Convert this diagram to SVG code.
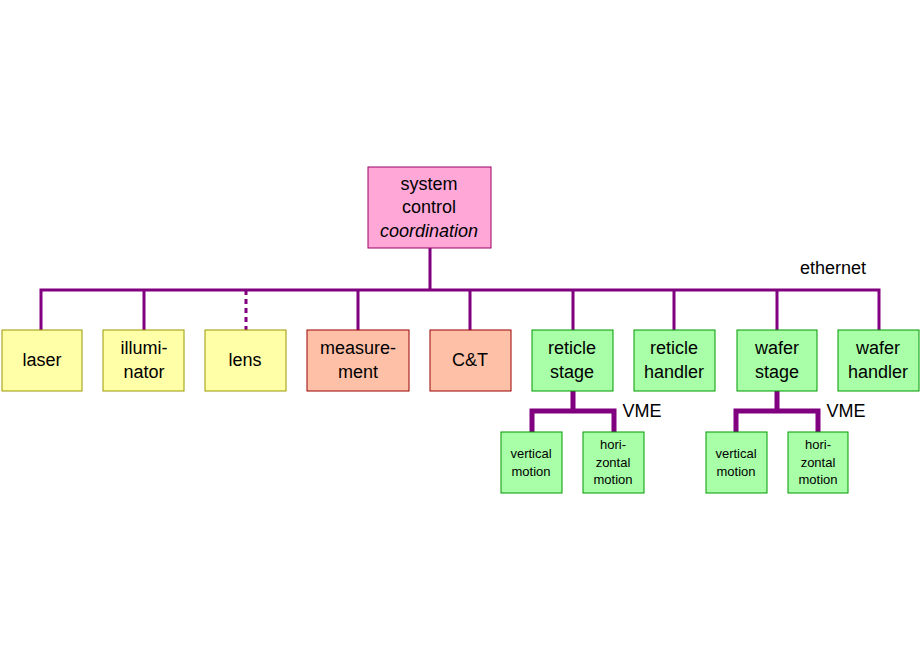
<svg xmlns="http://www.w3.org/2000/svg" width="920" height="660" viewBox="0 0 920 660">
<style>
text{font-family:"Liberation Sans",Arial,sans-serif;fill:#000;text-anchor:middle}
.t{font-size:18px}.s{font-size:13px}
.y{fill:#ffffa8;stroke:#999900}.o{fill:#ffc0a8;stroke:#990000}.g{fill:#a8ffa8;stroke:#009900}.p{fill:#ffa8d8;stroke:#990066}
.b{stroke:#800080;fill:none;stroke-width:3}.v{stroke:#800080;fill:none;stroke-width:5}
</style>
<rect width="920" height="660" fill="#fff"/>
<g id="connectors">
<path class="b" d="M430 248V290M41 330V290H879V330M144 290V330M358 290V330M470 290V330M573 290V330M674 290V330M777 290V330"/>
<path class="b" d="M246 290V330" stroke-dasharray="5,4"/>
<path class="v" d="M573 391V411M532 434V411H614V434M777 391V411M736 434V411H818V434"/>
</g>
<text class="t" x="833" y="274">ethernet</text>
<text class="t" x="642" y="417">VME</text>
<text class="t" x="846" y="417">VME</text>
<g id="system"><rect class="p" x="368" y="167" width="123" height="81"/><text class="t" x="429" y="190">system</text><text class="t" x="429" y="213">control</text><text class="t" x="429" y="237" font-style="italic">coordination</text></g>
<g id="laser"><rect class="y" x="2" y="330" width="80" height="61"/><text class="t" x="42" y="366">laser</text></g>
<g id="illuminator"><rect class="y" x="103" y="330" width="81" height="61"/><text class="t" x="144" y="354">illumi-</text><text class="t" x="144" y="378">nator</text></g>
<g id="lens"><rect class="y" x="205" y="330" width="81" height="61"/><text class="t" x="245" y="366">lens</text></g>
<g id="measurement"><rect class="o" x="307" y="330" width="102" height="61"/><text class="t" x="358" y="354">measure-</text><text class="t" x="358" y="378">ment</text></g>
<g id="ct"><rect class="o" x="430" y="330" width="81" height="61"/><text class="t" x="470" y="366">C&amp;T</text></g>
<g id="reticle-stage"><rect class="g" x="532" y="330" width="81" height="61"/><text class="t" x="572" y="354">reticle</text><text class="t" x="572" y="378">stage</text></g>
<g id="reticle-handler"><rect class="g" x="634" y="330" width="81" height="61"/><text class="t" x="674" y="354">reticle</text><text class="t" x="674" y="378">handler</text></g>
<g id="wafer-stage"><rect class="g" x="737" y="330" width="80" height="61"/><text class="t" x="777" y="354">wafer</text><text class="t" x="777" y="378">stage</text></g>
<g id="wafer-handler"><rect class="g" x="838" y="330" width="81" height="61"/><text class="t" x="878" y="354">wafer</text><text class="t" x="878" y="378">handler</text></g>
<g id="r-vert"><rect class="g" x="501" y="432" width="61" height="61"/><text class="s" x="531" y="458">vertical</text><text class="s" x="531" y="476">motion</text></g>
<g id="r-hori"><rect class="g" x="583" y="432" width="61" height="61"/><text class="s" x="613" y="449">hori-</text><text class="s" x="613" y="467">zontal</text><text class="s" x="613" y="484">motion</text></g>
<g id="w-vert"><rect class="g" x="706" y="432" width="61" height="61"/><text class="s" x="736" y="458">vertical</text><text class="s" x="736" y="476">motion</text></g>
<g id="w-hori"><rect class="g" x="788" y="432" width="60" height="61"/><text class="s" x="818" y="449">hori-</text><text class="s" x="818" y="467">zontal</text><text class="s" x="818" y="484">motion</text></g>
</svg>
